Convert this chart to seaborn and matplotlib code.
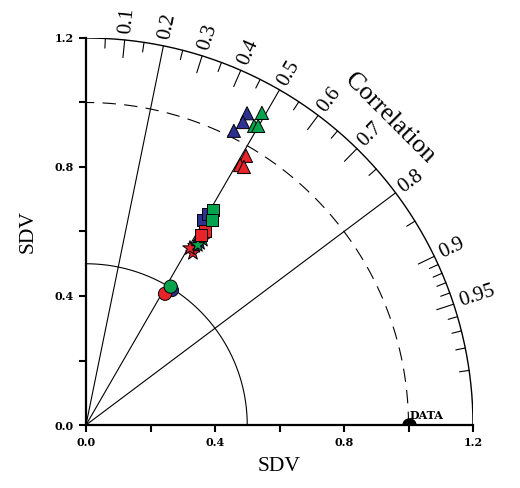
import numpy as np
import pandas as pd
import matplotlib
matplotlib.use("Agg")
import matplotlib.pyplot as plt
import seaborn as sns

# values: standard deviation and correlation per model
groups = ["blue", "red", "green"]
circle_sdv = [0.496, 0.475, 0.503]
circle_corr = [0.537, 0.516, 0.522]
star_sdv = {"blue": [0.666, 0.650], "red": [0.628, 0.636], "green": [0.679, 0.657]}
star_corr = {"blue": [0.531, 0.520], "red": [0.528, 0.507], "green": [0.534, 0.528]}
square_sdv = {"blue": [0.732, 0.756], "red": [0.706, 0.689], "green": [0.774, 0.746]}
square_corr = {"blue": [0.496, 0.500], "red": [0.523, 0.518], "green": [0.509, 0.523]}
tri_sdv = {"blue": [1.088, 1.058, 1.021], "red": [0.971, 0.937, 0.938], "green": [1.111, 1.064, 1.070]}
tri_corr = {"blue": [0.459, 0.460, 0.449], "red": [0.511, 0.510, 0.522], "green": [0.491, 0.490, 0.499]}

ref_sdv = 1.0
corr_major = [0.1, 0.2, 0.3, 0.4, 0.5, 0.6, 0.7, 0.8, 0.9, 0.95]
corr_minor = [0.05, 0.15, 0.25, 0.35, 0.45, 0.55, 0.65, 0.75, 0.85,
              0.91, 0.92, 0.93, 0.94, 0.96, 0.97, 0.98, 0.99]
radial_lines = [0.2, 0.5, 0.8]
sdv_ticks = [0.0, 0.2, 0.4, 0.6, 0.8, 1.0, 1.2]
sdv_labels = ["0.0", "", "0.4", "", "0.8", "", "1.2"]

palette = {"red": "#E8242B", "blue": "#2E3192", "green": "#05A34E"}

rows = []
for g, s, c in zip(groups, circle_sdv, circle_corr):
    rows.append((g, "circle", s, c))
for kind, sd, cc in [("star", star_sdv, star_corr),
                     ("square", square_sdv, square_corr),
                     ("triangle", tri_sdv, tri_corr)]:
    for g in groups:
        for s, c in zip(sd[g], cc[g]):
            rows.append((g, kind, s, c))
df = pd.DataFrame(rows, columns=["group", "kind", "sdv", "corr"])
df["x"] = df["sdv"] * df["corr"]
df["y"] = df["sdv"] * np.sin(np.arccos(df["corr"]))

sns.set_style("white")
plt.rcParams["font.family"] = ["Liberation Serif", "DejaVu Serif"]
plt.rcParams["text.color"] = "black"
plt.rcParams["axes.labelcolor"] = "black"
plt.rcParams["xtick.color"] = "black"
plt.rcParams["ytick.color"] = "black"

fig = plt.figure(figsize=(5.2, 4.88), dpi=100)
ax = fig.add_axes([86 / 520, 63 / 488, 387 / 520, 387 / 488])

rmax = 1.2
t = np.linspace(0, np.pi / 2, 300)
ax.plot(rmax * np.cos(t), rmax * np.sin(t), color="black", lw=1.0, zorder=2)
ax.plot(0.5 * np.cos(t), 0.5 * np.sin(t), color="black", lw=0.8, zorder=2)
ax.plot(ref_sdv * np.cos(t), ref_sdv * np.sin(t), color="black", lw=0.8,
        ls=(0, (12, 7.5)), zorder=2)

for c in radial_lines:
    th = np.arccos(c)
    ax.plot([0, rmax * np.cos(th)], [0, rmax * np.sin(th)], color="black", lw=0.8, zorder=2)

for c in corr_major:
    th = np.arccos(c)
    if c not in radial_lines:
        ax.plot([(rmax - 0.055) * np.cos(th), rmax * np.cos(th)],
                [(rmax - 0.055) * np.sin(th), rmax * np.sin(th)], color="black", lw=0.8)
    ax.text(1.22 * np.cos(th), 1.22 * np.sin(th), f"{c:g}", rotation=np.degrees(th),
            rotation_mode="anchor", ha="left", va="center", fontsize=15)
for c in corr_minor:
    th = np.arccos(c)
    ax.plot([(rmax - 0.03) * np.cos(th), rmax * np.cos(th)],
            [(rmax - 0.03) * np.sin(th), rmax * np.sin(th)], color="black", lw=0.8)

ax.text(0.943, 0.952, "Correlation", rotation=-45, rotation_mode="anchor",
        ha="center", va="center", fontsize=18.5)

sns.scatterplot(data=df, x="x", y="y", hue="group", style="kind", size="kind",
                palette=palette,
                markers={"circle": "o", "star": "*", "square": "s", "triangle": "^"},
                sizes={"circle": 90, "star": 120, "square": 70, "triangle": 90},
                edgecolor="black", linewidth=0.7, legend=False, zorder=4, ax=ax)

ax.scatter([ref_sdv], [0], s=90, color="black", zorder=5, clip_on=True)
ax.text(ref_sdv + 0.003, 0.012, "DATA", fontsize=8, fontweight="bold",
        family="DejaVu Serif", ha="left", va="bottom")

ax.set_xlim(0, rmax)
ax.set_ylim(0, rmax)
ax.set_xticks(sdv_ticks)
ax.set_yticks(sdv_ticks)
ax.set_xticklabels(sdv_labels, fontsize=8, fontweight="bold", family="DejaVu Serif")
ax.set_yticklabels(sdv_labels, fontsize=8, fontweight="bold", family="DejaVu Serif")
ax.tick_params(axis="both", direction="out", length=5, width=1.5, pad=4,
               bottom=True, left=True, colors="black")
ax.set_xlabel("SDV", fontsize=15.5, labelpad=6)
ax.set_ylabel("SDV", fontsize=15.5, labelpad=12)
for side in ["top", "right"]:
    ax.spines[side].set_visible(False)
for side in ["left", "bottom"]:
    ax.spines[side].set_linewidth(1.6)
    ax.spines[side].set_color("black")
    ax.spines[side].set_zorder(6)

fig.savefig("out.png", dpi=100)
